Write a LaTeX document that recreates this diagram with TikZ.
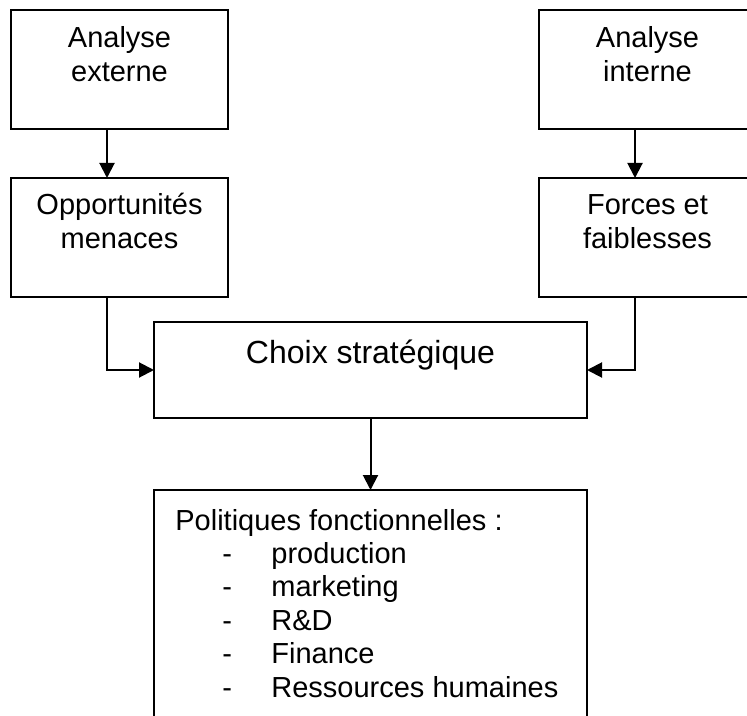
\documentclass[tikz,border=0pt]{standalone}
\usepackage{fontspec}
\setmainfont{Liberation Sans}
\usetikzlibrary{arrows.meta,fit}

% Two centred lines whose first baseline is the node's base
\newcommand\twolines[2]{\begin{tabular}[t]{@{}c@{}}#1\\#2\end{tabular}}
% One indented list entry with a leading dash
\newcommand\listitem[1]{\makebox[48pt][l]{\hspace*{23.5pt}-}#1}

\tikzset{
  box/.style={draw, line width=1pt, rectangle, inner sep=0pt, outer sep=0pt},
  lbl/.style={anchor=base, inner sep=0pt, font=\fontsize{14.5}{17}\selectfont},
  headline/.style={anchor=base, inner sep=0pt, font=\fontsize{16}{19}\selectfont},
  listtext/.style={anchor=base west, inner sep=0pt, font=\fontsize{14.5}{16.7}\selectfont},
  arr/.style={line width=1pt, -{Triangle[length=7.5pt,width=7.5pt]}},
}

\begin{document}
\begin{tikzpicture}[x=0.5pt, y=-0.5pt]
  \fill[white] (0,0) rectangle (747,715);
  \useasboundingbox (0,0) rectangle (747,715);
  \clip (0,0) rectangle (747,715);

  % boxes
  \node[box, fit={(11,10) (228,129)}]    (ext)   {};
  \node[box, fit={(539,10) (756,129)}]   (int)   {};
  \node[box, fit={(11,178) (228,297)}]   (opp)   {};
  \node[box, fit={(539,178) (756,297)}]  (ff)    {};
  \node[box, fit={(154,322) (587,418)}]  (choix) {};
  \node[box, fit={(154,490) (587,760)}]  (pol)   {};

  % texts
  \node[lbl] (textext) at (119.5,48) {\twolines{Analyse}{externe}};
  \node[lbl] (textint) at (647.5,48) {\twolines{Analyse}{interne}};
  \node[lbl] (textopp) at (119.5,215) {\twolines{Opportunités}{menaces}};
  \node[lbl] (textff)  at (647.5,215) {\twolines{Forces et}{faiblesses}};
  \node[headline] (textchoix) at (370.5,363) {Choix stratégique};
  \node[listtext] (textpol) at (175,530) {\begin{tabular}[t]{@{}l@{}}
      Politiques fonctionnelles :\\
      \listitem{production}\\
      \listitem{marketing}\\
      \listitem{R\&D}\\
      \listitem{Finance}\\
      \listitem{Ressources humaines}
    \end{tabular}};

  % connectors
  \draw[arr] ([xshift=48pt]ext.south west) -- ([xshift=48pt]opp.north west);
  \draw[arr] ([xshift=48pt]int.south west) -- ([xshift=48pt]ff.north west);
  \draw[arr] ([xshift=48pt]opp.south west) |- (choix.west);
  \draw[arr] ([xshift=48pt]ff.south west) |- (choix.east);
  \draw[arr] (choix.south) -- (pol.north);
\end{tikzpicture}
\end{document}
